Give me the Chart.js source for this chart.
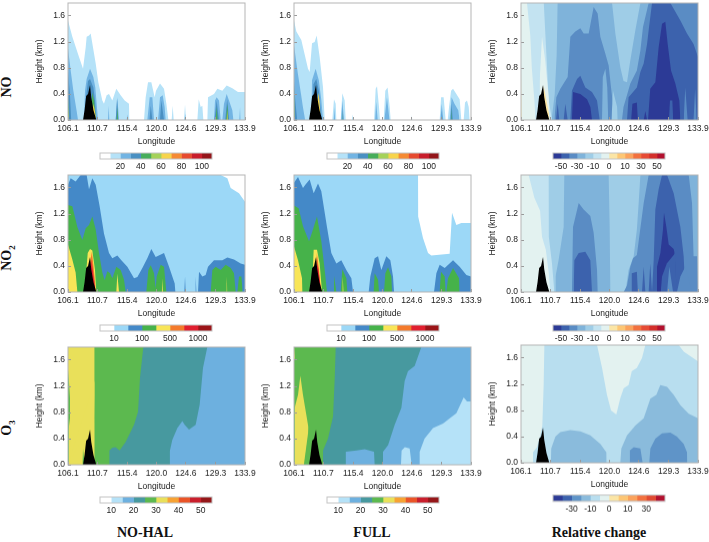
<!DOCTYPE html>
<html>
<head>
    <title>NO, NO2 and O3 height-longitude sections</title>
    <script src="https://cdn.jsdelivr.net/npm/chart.js"></script>
    <style>
        body { margin: 0; background: #fff; font-family: "Liberation Sans", Arial, sans-serif; }
        canvas { position: absolute; }
        .rowName, .colName {
            position: absolute;
            font-family: "Liberation Serif", "Times New Roman", serif;
            font-weight: bold;
            font-size: 14px;
            color: #111;
            white-space: nowrap;
            transform: translate(-50%, -50%);
        }
        .rowName { transform: translate(-50%, -50%) rotate(-90deg); }
        sub { font-size: 9px; line-height: 0; }
    </style>
</head>
<body>
    <div class="rowName" style="left:7px;top:87px">NO</div>
    <div class="rowName" style="left:7px;top:258px">NO<sub>2</sub></div>
    <div class="rowName" style="left:7px;top:428px">O<sub>3</sub></div>
    <div class="colName" style="left:145px;top:533px">NO-HAL</div>
    <div class="colName" style="left:372px;top:533px">FULL</div>
    <div class="colName" style="left:599px;top:533px">Relative change</div>

    <script>
        // axis ticks
        var lonTicks = [106.1, 110.7, 115.4, 120.0, 124.6, 129.3, 133.9];
        var heightTicks = [0, 0.4, 0.8, 1.2, 1.6];

        // colours
        var noCols = ['#ffffff', '#b5e2f8', '#72b4e3', '#4a90c2', '#47ad5a', '#a5d25a', '#f7d44c', '#f58a33', '#e64a2f', '#c81d2b', '#931519'];
        var no2Cols = ['#ffffff', '#9cd8f7', '#4489c8', '#46b24a', '#f8e558', '#f47a2b', '#e01f2f', '#9b1418'];
        var o3Cols = ['#ffffff', '#b5e2f8', '#6db0df', '#47999f', '#5cb94f', '#e9e05a', '#f7a233', '#ea5427', '#c91f2c', '#951719'];
        var relCols = ['#2c3a96', '#3c62ad', '#5a8cc4', '#7fb3da', '#9fcde7', '#c3e3f1', '#e3f2f0', '#fbe5a5', '#fdc674', '#fba25c', '#f2713f', '#e64b35', '#d32f2b', '#b2102e'];
        var rel3Cols = ['#2c3a96', '#3c62ad', '#5f94c8', '#8abbdc', '#b8deef', '#e3f2f0', '#fbe5a5', '#fdc674', '#fba25c', '#f2713f', '#e04a32', '#b2102e'];

        // colour bar labels, keyed by box boundary
        var noBarLabels = {2: '20', 4: '40', 6: '60', 8: '80', 10: '100'};
        var no2BarLabels = {1: '10', 3: '100', 5: '500', 7: '1000'};
        var o3BarLabels = {1: '10', 3: '20', 5: '30', 7: '40', 9: '50'};
        var relBarLabels = {1: '-50', 3: '-30', 5: '-10', 7: '0', 9: '10', 11: '30', 13: '50'};
        var rel3BarLabels = {2: '-30', 4: '-10', 6: '0', 8: '10', 10: '30'};

        // terrain, same in every panel
        var terrain = [[108.46,0],[108.7,0.15],[108.95,0.37],[109.25,0.4],[109.56,0.54],[109.75,0.35],[110.1,0.15],[110.55,0]];
        var fullBox = [[106.1,1.8],[133.9,1.8]];

        // NO, NO-HAL
        var noA1 = [[106.1,1.53],[106.78,1.28],[107.83,0.97],[108.46,0.79],[108.88,1.12],[109.03,1.28],[109.4,1.3],[109.66,1.33],[110.45,0.87],[110.86,0.58],[111.49,0.3],[111.75,0.25],[112.17,0.38],[112.54,0.4],[113.06,0.3],[113.69,0.48],[114.37,0.38],[115,0.3],[115.68,0.25],[115.73,0],[118.04,0],[118.3,0.35],[118.67,0.58],[119.19,0.58],[119.71,0.35],[119.92,0.45],[120.55,0.56],[121.18,0.48],[121.55,0.25],[121.86,0],[122.38,0],[122.54,0.22],[122.7,0],[124.32,0],[124.48,0.24],[124.64,0],[126.42,0],[126.63,0.32],[126.94,0.2],[127.2,0.22],[127.36,0],[127.99,0],[128.09,0.35],[129.03,0.4],[129.56,0.48],[130.34,0.45],[131.02,0.53],[131.91,0.49],[132.8,0.43],[133.9,0.43]];
        var noA2 = [[106.1,1.1],[106.52,0.76],[106.94,0.45],[107.46,0.14],[107.67,0],[108.61,0],[108.77,0.45],[109.03,0.63],[109.56,0.79],[110.08,0.66],[110.39,0.5],[110.81,0],[112.38,0],[112.49,0.22],[112.59,0],[113.59,0],[113.85,0.35],[114.11,0],[115.32,0],[115.42,0.09],[115.53,0],[118.56,0],[118.93,0.35],[119.35,0.35],[119.61,0],[120.24,0],[120.55,0.35],[120.97,0.38],[121.28,0.2],[121.44,0],[124.43,0],[124.5,0.1],[124.58,0],[129.03,0],[129.19,0.3],[129.45,0.35],[129.82,0.3],[130.08,0],[130.34,0],[130.6,0.25],[131.02,0.4],[131.39,0.3],[131.91,0.15],[132.07,0],[133.01,0],[133.12,0.2],[133.22,0]];
        var noA3 = [[106.1,0.75],[106.4,0.4],[106.6,0],[108.72,0],[108.93,0.35],[109.24,0.6],[109.56,0.63],[110.08,0.5],[110.34,0.3],[110.55,0],[113.6,0],[113.8,0.33],[114,0],[118.9,0],[119.1,0.22],[119.35,0],[120.55,0],[120.76,0.3],[121.18,0],[129.1,0],[129.45,0.3],[129.8,0],[130.8,0],[131.1,0.32],[131.4,0]];
        var noA4 = [[106.1,0.35],[106.3,0],[109.56,0],[109.9,0.42],[110.2,0.3],[110.5,0],[113.75,0],[113.85,0.2],[113.95,0],[129.3,0],[129.45,0.2],[129.6,0],[130.95,0],[131.1,0.25],[131.3,0]];
        var noA5 = [[106.1,0.2],[106.2,0],[109.9,0],[110.1,0.25],[110.35,0.12],[110.5,0],[131.05,0],[131.1,0.15],[131.2,0]];

        // NO, FULL
        var noB1 = [[106.1,1.53],[106.47,1.36],[107.25,1.23],[108.3,0.79],[108.56,0.74],[108.93,1.18],[109.35,1.2],[109.66,1.3],[110.13,0.97],[110.66,0.5],[110.92,0],[112.12,0],[112.38,0.32],[112.65,0.25],[112.75,0],[113.43,0],[113.69,0.41],[114.06,0.3],[114.22,0],[115.2,0],[115.3,0.09],[115.4,0],[118.67,0],[118.93,0.48],[119.14,0.52],[119.45,0.2],[119.6,0],[120.18,0],[120.44,0.45],[120.8,0.5],[121.13,0.2],[121.28,0],[124.48,0],[124.58,0.08],[124.68,0],[128.98,0],[129.2,0.35],[129.6,0.35],[129.92,0],[130.24,0],[130.45,0.2],[130.77,0.45],[131.08,0.48],[131.6,0.4],[132.12,0.32],[132.38,0],[132.75,0],[132.96,0.27],[133.27,0.3],[133.54,0.2],[133.7,0]];
        var noB2 = [[106.1,1.15],[106.7,0.72],[107.2,0.4],[107.5,0.2],[107.85,0],[108.83,0],[108.93,0.61],[109.5,0.79],[110,0.61],[110.4,0.3],[110.66,0],[112.35,0],[112.45,0.2],[112.55,0],[113.5,0],[113.7,0.3],[113.95,0],[118.85,0],[119,0.28],[119.25,0],[120.3,0],[120.7,0.35],[121.1,0],[129.1,0],[129.3,0.25],[129.55,0],[130.55,0],[130.85,0.35],[131.3,0.25],[131.9,0.15],[132.1,0]];
        var noB3 = [[106.1,0.6],[106.3,0.3],[106.6,0],[108.95,0],[109.15,0.55],[109.6,0.63],[110,0.45],[110.45,0],[113.65,0],[113.75,0.2],[113.85,0],[129.2,0],[129.3,0.15],[129.4,0],[130.7,0],[130.85,0.25],[131.05,0]];
        var noB4 = [[106.1,0.55],[106.2,0],[113.7,0],[113.75,0.15],[113.8,0],[130.8,0],[130.85,0.18],[130.95,0]];
        var noB5 = [[106.1,0.35],[106.15,0],[109.6,0],[109.9,0.42],[110.1,0.3],[110.3,0]];

        // NO, relative change
        var noC6 = [[106.1,1.8],[109.68,1.8],[109.92,1.33],[110.45,0.3],[110.97,0]];
        var noC7 = [[106.1,1.8],[107.04,1.8],[107.56,1.3],[107.8,0.8],[108.2,0.3],[108.4,0]];
        var noC7b = [[109.03,0],[109.03,0.6],[109.4,1.28],[109.9,0.92],[110.45,0.35],[110.6,0]];
        var noC8 = [[106.1,0.75],[106.18,0.75],[106.2,0],[109.66,0],[109.66,0.53],[110.1,0.3],[110.5,0.1],[110.6,0]];
        var noC4 = [[110.9,0],[111.4,0.4],[111.7,1],[111.85,1.8],[120.4,1.8],[120.92,1.33],[121.7,0.81],[122.2,0.6],[122.75,0.58],[123.27,0.92],[124.06,1.38],[124.85,1.8],[133.9,1.8]];
        var noC3 = [[111.34,0],[111.65,0.35],[112.28,0.48],[113.43,0.66],[113.85,1.28],[114.63,1.36],[115.42,1.41],[115.94,1.33],[116.73,1.33],[117.51,1.74],[118.14,1.64],[118.56,1.28],[119.35,1.02],[119.87,0.84],[120.24,0.5],[120.66,0.14],[120.87,0],[121.96,0],[122.2,0.2],[122.65,0.35],[123.27,0.56],[124.3,0.76],[124.85,1.07],[125.26,1.43],[126.15,1.8],[133.9,1.8]];
        var noC2 = [[111.6,0],[111.86,0.25],[112.12,0],[112.8,0],[113.06,0.25],[113.43,0],[113.85,0],[114.1,0.45],[114.9,0.63],[115.42,0.68],[116.2,0.5],[117.25,0.43],[118.04,0.3],[118.46,0],[122.75,0],[123,0.35],[124.3,0.5],[124.85,0.74],[125.37,0.87],[125.9,1.17],[126.15,1.38],[126.68,1.8],[129.56,1.8],[131.13,1.53],[132.17,1.33],[133.2,1.17],[133.9,0.97]];
        var noC1 = [[114.1,0],[114.27,0.43],[115.42,0.4],[116.47,0.32],[117,0.2],[117.25,0],[123.4,0],[123.6,0.25],[124.3,0.27],[124.45,0],[125.37,0],[125.63,0.14],[125.9,0],[126.05,0],[126.4,0.48],[127.2,0.58],[127.72,1.12],[128.25,1.48],[128.77,1.51],[129.14,1.17],[129.66,0.76],[130.34,0.56],[130.97,0.3],[131.13,0]];
        var noC2b = [[129.34,0],[129.5,0.3],[129.87,0.3],[130,0]];
        var noC3b = [[131.65,0],[131.9,0.5],[132.27,0],[133.2,0],[133.45,0.48],[133.7,0]];
        var noC4b = [[118.82,0],[118.95,0.66],[119.35,0.79],[119.65,0.5],[119.8,0]];
        var noC5b = [[120.3,0],[120.55,0.45],[121.2,0.2],[121.3,0]];

        // NO2, NO-HAL
        var no2A1 = [[106.1,1.8],[130.08,1.8],[131.13,1.75],[131.65,1.6],[132.96,1.52],[133.9,1.39]];
        var no2A2 = [[106.1,1.65],[106.52,1.75],[107.3,1.7],[108.09,1.8],[109.03,1.8],[109.4,1.58],[109.92,1.75],[110.45,1.65],[111.07,1.32],[111.75,0.9],[112.54,0.6],[113.06,0.52],[113.85,0.56],[114.48,0.49],[115.42,0.39],[116.47,0.21],[117,0.23],[117.78,0.37],[118.56,0.52],[119.19,0.66],[119.87,0.54],[121.18,0.6],[121.97,0.39],[122.86,0.13],[122.96,0],[124.37,0],[124.48,0.24],[124.58,0],[126.05,0],[126.15,0.24],[126.26,0],[126.52,0],[126.68,0.31],[127.2,0.24],[127.72,0.26],[128.09,0.39],[129.03,0.49],[130.34,0.49],[131.13,0.53],[132.17,0.5],[133.22,0.44],[133.9,0.42]];
        var no2A3 = [[106.1,1.34],[106.78,1.32],[107.57,1],[108.35,0.8],[108.88,0.98],[109.4,1.03],[109.92,1.16],[110.45,0.96],[110.97,0.6],[111.49,0.3],[111.86,0.18],[112.28,0.32],[112.7,0.29],[113.06,0.21],[113.69,0.39],[114.37,0.34],[114.9,0.19],[115.16,0],[118.4,0],[118.72,0.34],[119.09,0.41],[119.61,0.29],[119.87,0.05],[120.03,0.24],[120.66,0.42],[121.18,0.39],[121.55,0],[128.51,0],[128.77,0.34],[129.29,0.39],[130.08,0.34],[130.87,0.42],[131.65,0.37],[132.17,0.29],[132.44,0],[132.7,0],[132.96,0.24],[133.33,0.24],[133.54,0]];
        var no2A4 = [[106.1,0.73],[106.78,0.5],[107.3,0.3],[107.57,0],[108.7,0],[109.2,0.6],[109.56,0.66],[109.92,0.64],[110.34,0.34],[110.55,0],[113.69,0],[113.85,0.28],[114.11,0],[120.85,0],[120.9,0.21],[121,0],[130.97,0],[131.02,0.24],[131.13,0]];
        var no2A5 = [[109.3,0],[109.56,0.45],[109.85,0.62],[110.1,0.4],[110.4,0.1],[110.45,0]];
        var no2A6 = [[109.5,0],[109.8,0.5],[110.1,0.25],[110.45,0]];

        // NO2, FULL
        var no2B1 = [[106.1,1.8],[125.58,1.8],[125.6,1.16],[126.36,0.83],[127.15,0.6],[127.67,0.56],[130.55,0.59],[130.92,1.22],[131.6,1.03],[132.38,1.06],[133.9,1.06]];
        var no2B2 = [[106.1,1.68],[106.73,1.77],[107.51,1.6],[107.88,1.65],[108.56,1.73],[109.19,1.52],[109.87,1.67],[110.39,1.55],[111.28,1],[111.96,0.6],[112.75,0.44],[113.53,0.49],[114.32,0.34],[115.11,0.21],[115.37,0],[117.83,0],[118.09,0.24],[118.77,0.52],[119.3,0.55],[119.82,0.34],[120.6,0.55],[121.23,0.49],[121.65,0.24],[121.81,0],[128.09,0],[128.46,0.29],[128.98,0.42],[129.77,0.37],[131.08,0.49],[132.12,0.39],[133.17,0.26],[133.9,0.24]];
        var no2B3 = [[106.1,1.33],[106.83,1.29],[107.51,1.01],[108.46,0.78],[108.98,0.93],[109.71,1.16],[110.39,0.78],[110.92,0.34],[111.28,0],[112.23,0],[112.38,0.25],[112.75,0],[113.43,0],[113.69,0.35],[114.32,0.21],[114.48,0],[118.61,0],[118.77,0.29],[119.3,0.19],[119.45,0],[120.24,0],[120.45,0.29],[120.87,0.38],[121.39,0.24],[121.49,0],[128.98,0],[129.19,0.31],[129.77,0.24],[129.92,0],[130.03,0],[130.29,0.21],[131.08,0.37],[132.02,0.21],[132.12,0]];
        var no2B4 = [[106.1,0.7],[106.73,0.49],[107.36,0.21],[107.41,0],[108.9,0],[109.19,0.65],[109.71,0.65],[110.13,0.44],[110.5,0],[113.64,0],[113.74,0.24],[113.9,0]];
        var no2B5 = [[109.3,0],[109.7,0.6],[110,0.35],[110.35,0]];
        var no2B6 = [[109.5,0],[109.8,0.45],[110.15,0.18],[110.35,0]];

        // NO2, relative change
        var no2C6 = [[106.1,1.8],[110.45,1.8],[110.47,0.85],[110.97,0.44],[111.34,0]];
        var no2C7 = [[106.1,1.8],[107.3,1.8],[108.2,1.45],[109.1,1.25],[109.4,0.85],[110,0.65],[110.45,0.3],[110.7,0]];
        var no2C4 = [[111.5,0],[111.52,0.24],[112,0.49],[112.8,1],[112.9,1.8],[119.87,1.8],[120.03,1],[120.13,0],[122.5,0],[123,0.34],[123.8,0.55],[124.3,0.96],[124.58,1.37],[124.85,1.8],[133.9,1.8]];
        var no2C3 = [[114.1,0],[114.27,1],[115.16,1.37],[115.94,1.27],[116.99,1.17],[117.51,0.91],[118.04,0.34],[118.14,0],[122.23,0],[122.75,0.1],[123.27,0.39],[123.7,0.52],[124.3,0.57],[124.74,0.9],[125.37,1.37],[126.15,1.8],[132.44,1.8],[132.96,1.37],[133.07,1],[133.2,0.55],[133.75,0.55],[133.9,0.1]];
        var no2C2 = [[114.37,0],[114.48,0.49],[115.16,0.6],[116.2,0.62],[116.99,0.49],[117.25,0],[123.43,0],[123.5,0.29],[124.3,0.31],[124.45,0],[125.1,0],[125.37,0.39],[125.63,0],[126.15,0],[126.4,0.44],[126.68,0],[126.8,0],[126.94,0.49],[127.2,1.27],[127.72,1.58],[128.25,1.8],[129.04,1.8],[130.08,1.52],[131.13,1],[131.65,0.55],[131.9,0]];
        var no2C1 = [[127.36,0],[127.46,0.39],[127.99,0.6],[128.4,0.96],[128.56,1.22],[128.93,1],[129.3,0.73],[130.08,0.66],[130.18,0.62],[130.34,0.4],[130.4,0]];
        var no2C2b = [[128.05,0],[128.25,0.24],[129,0.44],[130.34,0.6],[130.5,0]];
        var no2C3b = [[129.04,0],[129.4,0.39],[129.98,0],[130.6,0],[131.13,0.24],[131.9,0.39],[132.96,0]];

        // O3, NO-HAL
        var o3A5 = [[106.1,1.8],[110.66,1.8],[110.45,1.33],[110.2,0.71],[110.25,0]];
        var o3A4a = [[106.1,1.45],[106.3,1.2],[106.42,1],[106.42,0]];
        var o3A5b = [[106.2,0],[106.2,0.55],[106.42,0.72],[106.46,0]];
        var o3A4b = [[108.35,0],[108.46,0.25],[108.7,0]];
        var o3A3 = [[112.54,0],[112.6,0.22],[113.06,0.26],[113.59,0.27],[114.2,0.22],[115.16,0.35],[116.47,0.61],[117.1,0.81],[117.41,1.33],[117.93,1.8],[133.9,1.8]];
        var o3A2 = [[122.07,0],[122.07,0.2],[122.48,0.38],[123.27,0.56],[124.06,0.67],[124.43,0.61],[125.1,0.54],[126.15,0.61],[126.78,0.92],[127.3,1.48],[127.98,1.8],[133.9,1.8]];

        // O3, FULL
        var o3B5 = [[106.1,1.8],[106.2,1.8],[106.25,1.65],[106.25,0]];
        var o3B4a = [[106.1,1.62],[106.3,1.62],[106.3,0]];
        var o3B5b = [[106.2,0],[106.2,0.87],[106.73,1.07],[107.1,1.36],[107.51,1.07],[108.04,0.76],[108.35,0.58],[108.4,0]];
        var o3B4 = [[107.65,0],[108.4,0.55],[108.7,0]];
        var o3B3 = [[110.66,0],[110.66,0.22],[111.44,0.4],[112.23,0.74],[112.5,1.33],[112.65,1.8],[133.9,1.8]];
        var o3B2 = [[114.2,0],[114.2,0.2],[115.9,0.22],[117.2,0.24],[118.67,0.2],[118.77,0],[120.08,0],[120.08,0.2],[120.87,0.3],[121.91,0.61],[122.96,0.87],[123.48,1.28],[124,1.43],[125.05,1.51],[126.1,1.8],[133.9,1.8]];
        var o3B1 = [[122.9,0],[123,0.22],[123.5,0.27],[124.27,0.25],[124.58,0],[125.84,0],[125.84,0.2],[126.6,0.4],[127.93,0.56],[129.5,0.63],[131.6,0.79],[132.75,1.03],[133.27,0.97],[133.7,0.97],[133.9,0.97]];

        // O3, relative change
        var o3C5 = [[107.98,0],[107.98,0.16],[108.61,0.24],[109.14,0.42],[109.45,0.57],[109.66,1.19],[109.77,1.8],[118.04,1.8],[118.83,1.45],[119.6,1.04],[120.24,0.8],[121.07,0.74],[121.7,0.99],[122.23,1.14],[123,1.19],[123.5,1.4],[124.3,1.45],[125.1,1.6],[125.63,1.8],[130.87,1.8],[131.65,1.7],[132.7,1.63],[133.9,1.55]];
        var o3C4 = [[110.8,0],[110.85,0.22],[111.5,0.4],[112.28,0.47],[113.85,0.5],[115.42,0.48],[116.99,0.42],[118.56,0.29],[119.5,0.16],[119.52,0],[121.7,0],[121.86,0.22],[122.75,0.42],[124.06,0.57],[125.37,0.68],[126.42,0.98],[127.36,1.04],[127.98,1.19],[129.03,1.16],[130.08,1.04],[131.13,0.88],[132.44,0.75],[133.9,0.68]];
        var o3C3 = [[123.1,0],[123.2,0.19],[123.8,0.24],[124.85,0.22],[125.2,0],[126.25,0],[126.42,0.22],[127.2,0.37],[128.25,0.45],[129.56,0.46],[130.6,0.4],[131.65,0.29],[132.17,0.16],[132.23,0]];

        // chart frame, drawn over the fills
        var framePlugin = {
            id: 'frame',
            afterDraw: function(chart, args, opts) {
                var a = chart.chartArea, c = chart.ctx;
                c.save();
                c.strokeStyle = opts.color;
                c.lineWidth = 1;
                c.strokeRect(a.left, a.top, a.right - a.left, a.bottom - a.top);
                c.restore();
            }
        };

        // tick padding would otherwise be added to the space round the plot
        function noScalePadding(s) {
            s.paddingLeft = s.paddingRight = s.paddingTop = s.paddingBottom = 0;
        }

        function addCanvas(left, top, width, height) {
            var cv = document.createElement('canvas');
            cv.width = width;
            cv.height = height;
            cv.style.left = left + 'px';
            cv.style.top = top + 'px';
            cv.style.width = width + 'px';
            cv.style.height = height + 'px';
            document.body.appendChild(cv);
            return cv;
        }

        function toPoints(arr) {
            return arr.map(function(p) { return {x: p[0], y: p[1]}; });
        }

        // left, bottom are the plot area's edges; layers are painted in the order given
        function drawPanel(left, bottom, plotH, layers) {
            var axisW = 38, axisH = 30, topPad = 2;
            var cv = addCanvas(left - axisW, bottom - plotH - topPad, axisW + 177 + 14, topPad + plotH + axisH);
            var datasets = layers.concat([[terrain, '#000000']]).map(function(l) {
                return {
                    data: toPoints(l[0]),
                    backgroundColor: l[1],
                    borderWidth: 0,
                    pointRadius: 0,
                    tension: 0,
                    fill: 'origin'
                };
            }).reverse(); // chart.js paints the last dataset first
            new Chart(cv.getContext('2d'), {
                type: 'line',
                data: {datasets: datasets},
                plugins: [framePlugin],
                options: {
                    responsive: false,
                    animation: false,
                    events: [],
                    layout: {padding: {left: 0, top: topPad, right: 14, bottom: 0}},
                    plugins: {legend: {display: false}, tooltip: {enabled: false}, frame: {color: '#b5b5b5'}},
                    scales: {
                        x: {
                            type: 'linear',
                            min: 106.1,
                            max: 133.9,
                            afterBuildTicks: function(s) { s.ticks = lonTicks.map(function(v) { return {value: v}; }); },
                            afterFit: function(s) { s.height = axisH; noScalePadding(s); },
                            grid: {drawOnChartArea: false, tickLength: -3, color: '#999', z: 1},
                            border: {display: false},
                            ticks: {
                                color: '#222',
                                font: {size: 8.5, family: 'Liberation Sans'},
                                padding: 7,
                                maxRotation: 0,
                                autoSkip: false,
                                callback: function(v) { return v.toFixed(1); }
                            },
                            title: {display: true, text: 'Longitude', color: '#222', font: {size: 8.5, family: 'Liberation Sans'}, padding: {top: 0, bottom: 3}}
                        },
                        y: {
                            min: 0,
                            max: 1.8,
                            afterBuildTicks: function(s) { s.ticks = heightTicks.map(function(v) { return {value: v}; }); },
                            afterFit: function(s) { s.width = axisW; noScalePadding(s); },
                            grid: {drawOnChartArea: false, tickLength: -3, color: '#999', z: 1},
                            border: {display: false},
                            ticks: {
                                color: '#222',
                                font: {size: 8.5, family: 'Liberation Sans'},
                                padding: 6,
                                callback: function(v) { return v.toFixed(1); }
                            },
                            title: {display: true, text: 'Height (km)', color: '#222', font: {size: 8.5, family: 'Liberation Sans'}, padding: {top: 5, bottom: 0}}
                        }
                    }
                }
            });
        }

        function drawBar(left, top, height, colours, labels) {
            var width = 112.5, pad = 12;
            var cv = addCanvas(left - pad, top - 1, width + pad * 2, height + 19);
            new Chart(cv.getContext('2d'), {
                type: 'bar',
                data: {
                    labels: [''],
                    datasets: colours.map(function(c) { return {data: [1], backgroundColor: c, borderWidth: 0}; })
                },
                plugins: [framePlugin],
                options: {
                    responsive: false,
                    animation: false,
                    events: [],
                    indexAxis: 'y',
                    barPercentage: 1,
                    categoryPercentage: 1,
                    layout: {padding: {left: pad, right: pad, top: 1, bottom: 0}},
                    plugins: {legend: {display: false}, tooltip: {enabled: false}, frame: {color: '#c4c4c4'}},
                    scales: {
                        x: {
                            stacked: true,
                            min: 0,
                            max: colours.length,
                            afterFit: function(s) { s.height = 18; noScalePadding(s); },
                            grid: {display: false, drawTicks: false},
                            border: {display: false},
                            ticks: {
                                stepSize: 1,
                                autoSkip: false,
                                maxRotation: 0,
                                padding: 3,
                                color: '#222',
                                font: {size: 8.5, family: 'Liberation Sans'},
                                callback: function(v) { return labels[v] || ''; }
                            }
                        },
                        y: {stacked: true, display: false}
                    }
                }
            });
        }

        var n = noCols, m = no2Cols, o = o3Cols, r = relCols, q = rel3Cols;

        drawPanel(67.5, 120, 117.5, [[noA1, n[1]], [noA2, n[2]], [noA3, n[3]], [noA4, n[4]], [noA5, n[6]]]);
        drawPanel(294, 120, 117.5, [[noB1, n[1]], [noB2, n[2]], [noB3, n[3]], [noB4, n[4]], [noB5, n[6]]]);
        drawPanel(520.5, 120, 117.5, [[fullBox, r[4]], [noC6, r[5]], [noC7, r[6]], [noC7b, r[6]], [noC8, r[7]], [noC4, r[3]], [noC3, r[2]], [noC2, r[1]], [noC1, r[0]], [noC2b, r[1]], [noC3b, r[2]], [noC4b, r[3]], [noC5b, r[4]]]);

        drawPanel(67.5, 292, 117.5, [[no2A1, m[1]], [no2A2, m[2]], [no2A3, m[3]], [no2A4, m[4]], [no2A5, m[5]], [no2A6, m[6]]]);
        drawPanel(294, 292, 117.5, [[no2B1, m[1]], [no2B2, m[2]], [no2B3, m[3]], [no2B4, m[4]], [no2B5, m[5]], [no2B6, m[6]]]);
        drawPanel(520.5, 292, 117.5, [[fullBox, r[4]], [no2C6, r[5]], [no2C7, r[6]], [no2C4, r[3]], [no2C3, r[2]], [no2C2, r[1]], [no2C1, r[0]], [no2C2b, r[1]], [no2C3b, r[2]]]);

        drawPanel(67.5, 464.5, 117.5, [[fullBox, o[4]], [o3A5, o[5]], [o3A4a, o[4]], [o3A5b, o[5]], [o3A4b, o[4]], [o3A3, o[3]], [o3A2, o[2]]]);
        drawPanel(294, 464.5, 117.5, [[fullBox, o[4]], [o3B5, o[5]], [o3B4a, o[4]], [o3B5b, o[5]], [o3B4, o[4]], [o3B3, o[3]], [o3B2, o[2]], [o3B1, o[1]]]);
        drawPanel(520.5, 462.5, 117.5, [[fullBox, q[5]], [o3C5, q[4]], [o3C4, q[3]], [o3C3, q[2]]]);

        drawBar(99.5, 152.5, 6, noCols, noBarLabels);
        drawBar(326.5, 152.5, 6, noCols, noBarLabels);
        drawBar(552.5, 152.5, 6, relCols, relBarLabels);
        drawBar(99.5, 324.5, 6.5, no2Cols, no2BarLabels);
        drawBar(326.5, 324.5, 6.5, no2Cols, no2BarLabels);
        drawBar(552.5, 324.5, 6.5, relCols, relBarLabels);
        drawBar(99.5, 496.5, 6, o3Cols, o3BarLabels);
        drawBar(326.5, 496.5, 6, o3Cols, o3BarLabels);
        drawBar(552.5, 495, 6.5, rel3Cols, rel3BarLabels);
    </script>
</body>
</html>
